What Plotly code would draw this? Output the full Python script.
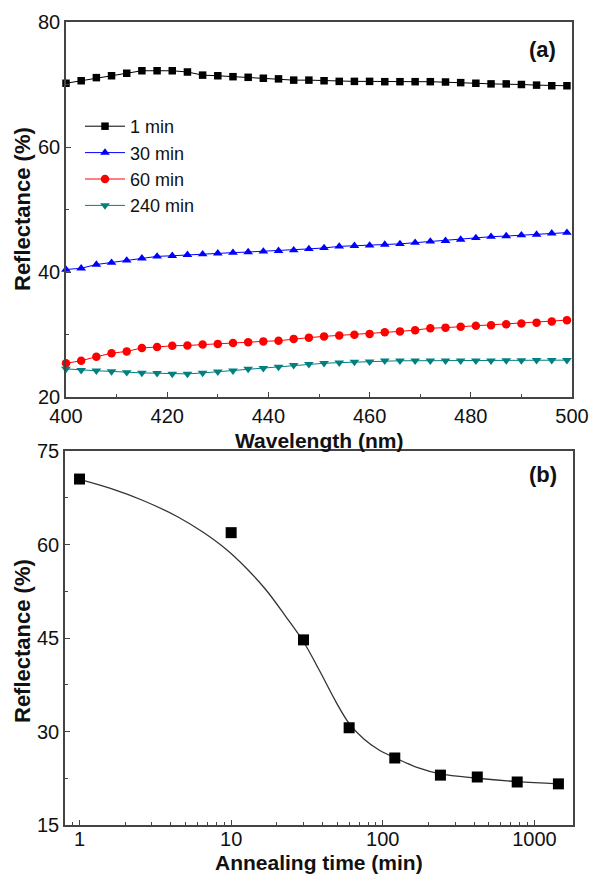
import plotly.graph_objects as go

# ---------------- data: panel (a) ----------------
wavelength = [400, 403, 406, 409, 412, 415, 418, 421, 424, 427, 430, 433, 436, 439, 442, 445, 448,
              451, 454, 457, 460, 463, 466, 469, 472, 475, 478, 481, 484, 487, 490, 493, 496, 499]
refl_1min = [70.2, 70.6, 71.1, 71.4, 71.8, 72.2, 72.2, 72.2, 72.0, 71.5, 71.4, 71.25, 71.15, 71.0, 70.9, 70.7, 70.7,
             70.6, 70.5, 70.5, 70.5, 70.45, 70.45, 70.45, 70.45, 70.4, 70.3, 70.2, 70.1, 70.1, 70.0, 69.9, 69.8, 69.8]
refl_30min = [40.4, 40.6, 41.2, 41.5, 41.85, 42.2, 42.5, 42.6, 42.75, 42.85, 43.0, 43.1, 43.2, 43.3, 43.4, 43.5, 43.7,
              43.85, 44.1, 44.2, 44.25, 44.4, 44.5, 44.7, 44.9, 45.0, 45.2, 45.45, 45.65, 45.75, 45.9, 46.0, 46.2, 46.3]
refl_60min = [25.4, 25.8, 26.45, 27.0, 27.3, 27.85, 28.0, 28.2, 28.25, 28.4, 28.5, 28.65, 28.75, 28.9, 29.0, 29.3, 29.5,
              29.7, 29.85, 29.95, 30.1, 30.35, 30.5, 30.7, 31.0, 31.1, 31.25, 31.4, 31.5, 31.65, 31.75, 31.9, 32.1, 32.3]
refl_240min = [24.5, 24.3, 24.2, 24.1, 23.95, 23.85, 23.8, 23.7, 23.7, 23.85, 24.05, 24.2, 24.5, 24.6, 24.8, 25.1, 25.25,
               25.4, 25.5, 25.6, 25.65, 25.8, 25.8, 25.8, 25.8, 25.8, 25.8, 25.8, 25.8, 25.85, 25.85, 25.9, 25.9, 25.9]
series_names = ["1 min", "30 min", "60 min", "240 min"]

# ---------------- data: panel (b) ----------------
anneal_time = [1, 10, 30, 60, 120, 240, 420, 770, 1440]
anneal_refl = [70.5, 61.9, 44.7, 30.6, 25.75, 23.0, 22.7, 21.9, 21.6]
fit_time = [1, 1.6, 2.6, 4.4, 6.5, 9.3, 12.6, 17, 23, 30, 38, 49, 60, 75, 95, 120, 170, 240, 420, 770, 1440]
fit_refl = [70.45, 69.0, 67.1, 64.5, 62.0, 59.2, 56.2, 52.7, 48.4, 44.4, 39.9, 34.8, 31.3, 28.8, 27.0, 25.8,
            24.2, 23.2, 22.5, 21.95, 21.6]

FONT = "Liberation Sans, Arial, sans-serif"
AX = "#444444"
TXT = "#111111"

fig = go.Figure()

styles = [
    (refl_1min, "#000000", "square", 7.5),
    (refl_30min, "#0000FF", "triangle-up", 8.5),
    (refl_60min, "#FF0000", "circle", 8.5),
    (refl_240min, "#008080", "triangle-down", 8.5),
]
for name, (vals, col, sym, sz) in zip(series_names, styles):
    fig.add_trace(go.Scatter(
        x=wavelength, y=vals, name=name, mode="lines+markers",
        line=dict(color=col, width=1),
        marker=dict(color=col, symbol=sym, size=sz),
        cliponaxis=False, xaxis="x", yaxis="y"))

fig.add_trace(go.Scatter(
    x=fit_time, y=fit_refl, mode="lines", line=dict(color="#333333", width=1.3, shape="spline"),
    showlegend=False, xaxis="x2", yaxis="y2"))
fig.add_trace(go.Scatter(
    x=anneal_time, y=anneal_refl, mode="markers",
    marker=dict(color="#000000", symbol="square", size=11),
    showlegend=False, cliponaxis=False, xaxis="x2", yaxis="y2"))

common = dict(showline=True, linecolor=AX, linewidth=1.5, mirror=True, showgrid=False, zeroline=False,
              ticks="inside", ticklen=5, tickwidth=1.2, tickcolor=AX, automargin=False,
              tickfont=dict(family=FONT, size=20, color=TXT))

log_minor = [v * 10 ** d for d in range(-1, 4) for v in range(2, 10)]
log_minor = [v for v in log_minor if 0.8 <= v <= 1800]


def label(text, x, y, size=22, angle=0, yanchor="middle"):
    return dict(text="<b>%s</b>" % text, x=x / 593, y=1 - y / 876, xref="paper", yref="paper",
                xanchor="center", yanchor=yanchor, showarrow=False, textangle=angle, borderpad=0,
                font=dict(family=FONT, size=size, color=TXT))


fig.update_layout(
    width=593, height=876, autosize=False,
    margin=dict(l=0, r=0, t=0, b=0),
    paper_bgcolor="white", plot_bgcolor="white",
    font=dict(family=FONT, color=TXT),
    xaxis=dict(domain=[66 / 593, 572 / 593], anchor="y", range=[400, 500], dtick=20, tick0=400,
               minor=dict(ticks="inside", ticklen=3, dtick=10, tickcolor=AX), **common),
    yaxis=dict(domain=[1 - 397 / 876, 1 - 22 / 876], anchor="x", range=[20, 80], dtick=20, tick0=20,
               minor=dict(ticks="inside", ticklen=3, dtick=10, tickcolor=AX), **common),
    xaxis2=dict(domain=[65 / 593, 573 / 593], anchor="y2", type="log", range=[-0.0958, 3.2545],
                tickvals=[1, 10, 100, 1000], ticktext=["1", "10", "100", "1000"], ticklabelstandoff=-5,
                minor=dict(ticks="inside", ticklen=3, tickvals=log_minor, tickcolor=AX), **common),
    yaxis2=dict(domain=[1 - 825 / 876, 1 - 451 / 876], anchor="x2", range=[15, 75], dtick=15, tick0=15,
                minor=dict(ticks="inside", ticklen=3, dtick=7.5, tickcolor=AX), **common),
    legend=dict(x=80 / 593, y=1 - 108 / 876, xanchor="left", yanchor="top",
                bgcolor="rgba(0,0,0,0)", borderwidth=0, itemwidth=40,
                font=dict(family=FONT, size=18, color=TXT), tracegroupgap=0),
    annotations=[
        label("Wavelength (nm)", 319, 440, size=21),
        label("Reflectance (%)", 22, 209, angle=-90),
        label("Annealing time (min)", 319, 875, size=21, yanchor="bottom"),
        label("Reflectance (%)", 22, 641, angle=-90),
        label("(a)", 542, 49),
        label("(b)", 543, 474),
    ],
)

fig.write_html("out.html")
